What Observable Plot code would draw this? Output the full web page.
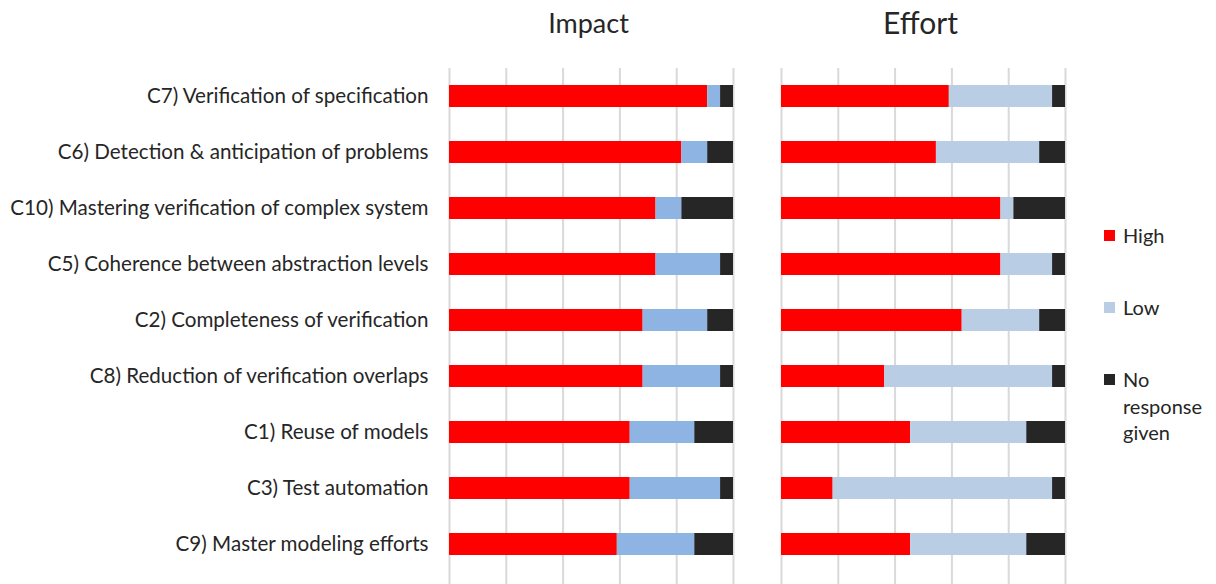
<!DOCTYPE html>
<html>
<head>
<meta charset="utf-8">
<script src="https://cdn.jsdelivr.net/npm/d3@7"></script>
<script src="https://cdn.jsdelivr.net/npm/@observablehq/plot@0.6"></script>
<style>
  html, body { margin: 0; padding: 0; background: #fff; }
  #wrap { position: relative; width: 1216px; height: 584px; font-family: Lato, "Noto Sans", sans-serif; }
  #legend { position: absolute; left: 1104px; top: 0; color: #262626; font-size: 20px; }
  .item { position: absolute; left: 0; white-space: nowrap; }
  .sw { position: absolute; left: 0; width: 11px; height: 11px; }
  .lab { position: absolute; left: 19px; line-height: 26.5px; }
</style>
</head>
<body>
<div id="wrap">
  <div id="chart"></div>
  <div id="legend"></div>
</div>
<script>
const categories = [
  "C7) Verification of specification",
  "C6) Detection & anticipation of problems",
  "C10) Mastering verification of complex system",
  "C5) Coherence between abstraction levels",
  "C2) Completeness of verification",
  "C8) Reduction of verification overlaps",
  "C1) Reuse of models",
  "C3) Test automation",
  "C9) Master modeling efforts"
];
const panels = ["Impact", "Effort"];
const responses = ["High", "Low", "No response given"];
const impactHigh = [20, 18, 16, 16, 15, 15, 14, 14, 13];
const impactLow  = [1, 2, 2, 5, 5, 6, 5, 7, 6];
const impactNone = [1, 2, 4, 1, 2, 1, 3, 1, 3];
const effortHigh = [13, 12, 17, 17, 14, 8, 10, 4, 10];
const effortLow  = [8, 8, 1, 4, 6, 13, 9, 17, 9];
const effortNone = [1, 2, 4, 1, 2, 1, 3, 1, 3];
const xTicks = [0, 0.2, 0.4, 0.6, 0.8, 1];

const colors = {
  Impact: {"High": "#FF0000", "Low": "#8EB4E3", "No response given": "#262626"},
  Effort: {"High": "#FF0000", "Low": "#B9CDE5", "No response given": "#262626"}
};
const titleSize = {Impact: 27, Effort: 30};

const series = {
  Impact: [impactHigh, impactLow, impactNone],
  Effort: [effortHigh, effortLow, effortNone]
};
const data = [];
for (const p of panels) {
  categories.forEach((c, i) => {
    responses.forEach((r, k) => {
      data.push({panel: p, category: c, response: r, value: series[p][k][i], color: colors[p][r]});
    });
  });
}
const titles = panels.map(p => ({panel: p, size: titleSize[p]}));

const chart = Plot.plot({
  width: 1216,
  height: 584,
  marginLeft: 448,
  marginRight: 150,
  marginTop: 68,
  marginBottom: 0,
  style: {fontFamily: "Lato, 'Noto Sans', sans-serif", fontSize: "20.6px", color: "#262626", background: "#fff"},
  fx: {domain: panels, paddingInner: 0.1441, paddingOuter: 0, axis: null, label: null},
  x: {domain: [0, 1], axis: null},
  y: {domain: categories, range: [68, 572], paddingInner: 0.6, paddingOuter: 0.3, tickSize: 0, tickPadding: 21, label: null},
  color: {type: "identity"},
  marks: [
    Plot.gridX(xTicks, {stroke: "#D9D9D9", strokeOpacity: 1, strokeWidth: 2}),
    Plot.barX(data, Plot.stackX({
      x: "value", y: "category", fx: "panel", fill: "color",
      order: null, offset: "normalize"
    })),
    Plot.text(titles, {
      fx: "panel", text: "panel", fontSize: "size",
      frameAnchor: "top", dy: -44, dx: -3, lineAnchor: "middle", fill: "#262626"
    })
  ]
});
document.getElementById("chart").appendChild(chart);

// legend
const legend = document.getElementById("legend");
const legendItems = [
  {label: "High", color: colors.Effort["High"], top: 222},
  {label: "Low", color: colors.Effort["Low"], top: 294},
  {label: "No<br>response<br>given", color: colors.Effort["No response given"], top: 366}
];
legendItems.forEach(d => {
  const it = document.createElement("div");
  it.className = "item";
  it.style.top = d.top + "px";
  it.innerHTML = `<div class="sw" style="background:${d.color};top:8px"></div><div class="lab">${d.label}</div>`;
  legend.appendChild(it);
});
</script>
</body>
</html>
